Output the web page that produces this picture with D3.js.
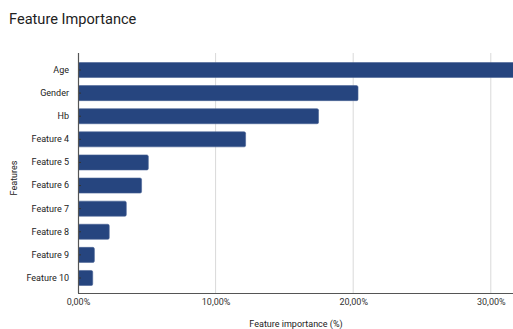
<!DOCTYPE html>
<html><head><meta charset="utf-8">
<script src="https://cdn.jsdelivr.net/npm/d3@7"></script>
<style>body{margin:0;background:#fff;} text{font-family:Roboto,"Noto Sans",sans-serif;}</style>
</head><body>
<svg id="c" width="513" height="329"></svg>
<script>
const categories = ["Age","Gender","Hb","Feature 4","Feature 5","Feature 6","Feature 7","Feature 8","Feature 9","Feature 10"];
const values = [0.325,0.2035,0.1748,0.1218,0.0511,0.0462,0.0351,0.0227,0.0119,0.0107];
const xTicks = [0,0.1,0.2,0.3];

(function(){
const svg = d3.select("#c");
const pL = 78, pR = 513, pT = 53, pB = 293;
const x = d3.scaleLinear().domain([0,0.1]).range([pL,pL+137.6]);
const y = d3.scaleBand().domain(categories).range([62.5,285.5]).paddingInner(0.35).paddingOuter(0);

svg.append("text").attr("x",9).attr("y",24).attr("font-size",14.6).attr("fill","#222").text("Feature Importance");

const fmt = v => d3.format(".2f")(v*100).replace(".",",")+"%";

svg.append("g").selectAll("line").data(xTicks.slice(1)).join("line")
  .attr("x1",d=>x(d)).attr("x2",d=>x(d)).attr("y1",pT).attr("y2",pB)
  .attr("stroke","#d9d9d9").attr("stroke-width",1);

svg.append("clipPath").attr("id","pc").append("rect").attr("x",pL).attr("y",pT).attr("width",pR-pL).attr("height",pB-pT);
svg.append("g").attr("clip-path","url(#pc)").selectAll("rect").data(categories).join("rect")
  .attr("x",x(0)).attr("y",d=>y(d)).attr("height",y.bandwidth())
  .attr("width",(d,i)=>x(values[i])-x(0)).attr("rx",1.5)
  .attr("fill","#26457f").attr("stroke","#4a6396").attr("stroke-width",0.6);

const xa = svg.append("g").attr("transform",`translate(0,${pB})`)
  .call(d3.axisBottom(x).tickValues(xTicks).tickFormat(fmt).tickSize(0).tickPadding(6));
xa.select(".domain").remove();
xa.selectAll("text").attr("font-size",9).attr("fill","#333").attr("font-family","Roboto,sans-serif");
svg.append("line").attr("x1",pL).attr("x2",pR).attr("y1",pB+0.5).attr("y2",pB+0.5).attr("stroke","#555").attr("stroke-width",1.2);

const ya = svg.append("g").attr("transform",`translate(${pL},0)`)
  .call(d3.axisLeft(y).tickSize(4).tickPadding(5));
ya.select(".domain").remove();
ya.selectAll(".tick line").attr("x2",3).attr("stroke","#333");
ya.selectAll("text").attr("font-size",9).attr("fill","#222").attr("font-family","Roboto,sans-serif");
svg.append("line").attr("x1",pL+0.5).attr("x2",pL+0.5).attr("y1",pT).attr("y2",pB).attr("stroke","#555").attr("stroke-width",1.2);

svg.append("text").attr("transform","translate(17,178) rotate(-90)").attr("text-anchor","middle")
  .attr("font-size",9).attr("fill","#222").text("Features");
svg.append("text").attr("x",296).attr("y",327).attr("text-anchor","middle")
  .attr("font-size",9).attr("fill","#222").text("Feature importance (%)");
})();
</script>
</body></html>
